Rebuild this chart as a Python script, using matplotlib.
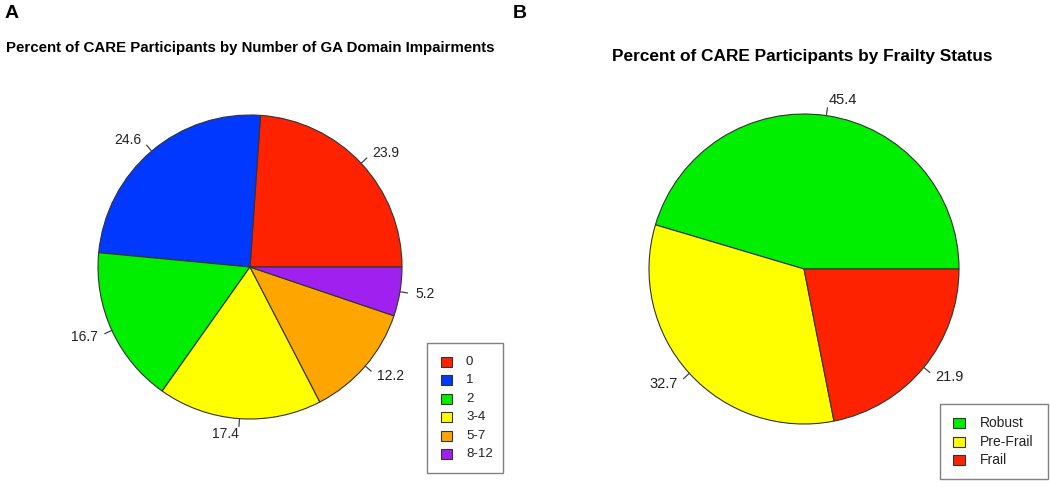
import numpy as np
import matplotlib
matplotlib.use("Agg")
import matplotlib.pyplot as plt
from matplotlib.patches import Rectangle

plt.rcParams['font.family'] = ['Liberation Sans', 'DejaVu Sans']

# ---- data ----
ga_labels = ["0", "1", "2", "3-4", "5-7", "8-12"]
ga_values = [23.9, 24.6, 16.7, 17.4, 12.2, 5.2]
ga_colors = ["#ff2200", "#0038ff", "#00ee00", "#ffff00", "#ffa500", "#a020f0"]

fr_labels = ["Robust", "Pre-Frail", "Frail"]
fr_values = [45.4, 32.7, 21.9]
fr_colors = ["#00ee00", "#ffff00", "#ff2200"]

title_a = "Percent of CARE Participants by Number of GA Domain Impairments"
title_b = "Percent of CARE Participants by Frailty Status"

W, H = 1050, 487
fig = plt.figure(figsize=(W / 100, H / 100), dpi=100)
ax = fig.add_axes([0, 0, 1, 1])


def draw_pie(values, colors, center, radius, fs):
    wedges, _ = ax.pie(values, colors=colors, radius=radius, center=center,
                       startangle=0, counterclock=True,
                       wedgeprops=dict(edgecolor="#333333", linewidth=0.8))
    cum = np.cumsum([0] + list(values))
    tot = cum[-1]
    for i, v in enumerate(values):
        mid = np.deg2rad(360 * (cum[i] + cum[i + 1]) / 2 / tot)
        c, s = np.cos(mid), np.sin(mid)
        xs = center[0] + radius * np.array([1.0, 1.05]) * c
        ys = center[1] + radius * np.array([1.0, 1.05]) * s
        ax.plot(xs, ys, color="#444444", lw=0.9)
        ax.text(center[0] + 1.1 * radius * c, center[1] + 1.1 * radius * s,
                f"{v:.1f}", fontsize=fs, color="#222222", va="center",
                ha="left" if c > 0 else "right")
    return wedges


def draw_legend(labels, colors, box, fs, row_dy, patch_x, patch_w, patch_h, text_x):
    x0, ytop, w, h = box
    ax.add_patch(Rectangle((x0, ytop - h), w, h, fill=False, edgecolor="#808080", lw=1.0))
    first = ytop - (h - row_dy * (len(labels) - 1)) / 2
    for i, (lab, col) in enumerate(zip(labels, colors)):
        yc = first - i * row_dy
        ax.add_patch(Rectangle((patch_x, yc - patch_h / 2), patch_w, patch_h,
                               facecolor=col, edgecolor="#333333", lw=0.8))
        ax.text(text_x, yc, lab, fontsize=fs, va="center", ha="left", color="#222222")


draw_pie(ga_values, ga_colors, (250, H - 267), 152, 10)
draw_pie(fr_values, fr_colors, (804, H - 269), 155, 10.5)

draw_legend(ga_labels, ga_colors, (427, H - 343, 76, 130), 9.5, 18.4, 441, 11, 10, 466)
draw_legend(fr_labels, fr_colors, (940, H - 404, 108, 75), 10, 18.4, 953, 12, 10, 980)

ax.text(250, H - 48, title_a, fontsize=10.8, fontweight="bold", ha="center", va="center")
ax.text(802, H - 57, title_b, fontsize=12.4, fontweight="bold", ha="center", va="center")
ax.text(5, H - 14, "A", fontsize=14, fontweight="bold", ha="left", va="center")
ax.text(513, H - 14, "B", fontsize=14, fontweight="bold", ha="left", va="center")

ax.set_xlim(0, W)
ax.set_ylim(0, H)
ax.set_aspect("auto")
ax.axis("off")

fig.savefig("out.png", dpi=100)
